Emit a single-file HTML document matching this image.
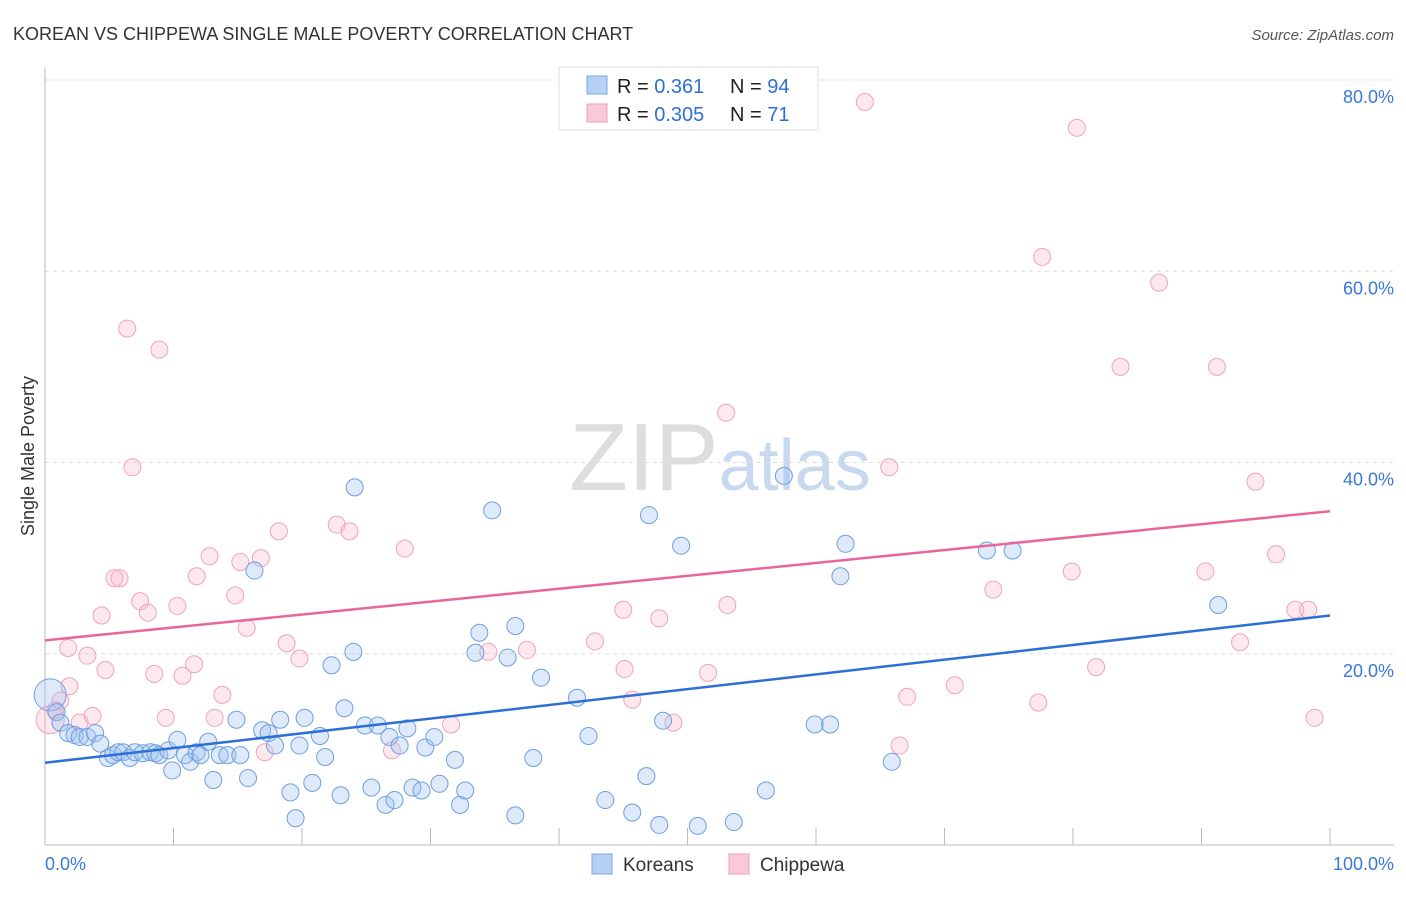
<!DOCTYPE html>
<html><head><meta charset="utf-8"><style>
body{margin:0;background:#fff;font-family:"Liberation Sans",sans-serif;}
svg text{font-family:"Liberation Sans",sans-serif;}
</style></head><body>
<svg id="chart" width="1406" height="892" viewBox="0 0 1406 892" xmlns="http://www.w3.org/2000/svg">
<text x="13" y="40" font-size="18" fill="#333">KOREAN VS CHIPPEWA SINGLE MALE POVERTY CORRELATION CHART</text>
<text x="1394" y="40" font-size="15" fill="#555" text-anchor="end" font-style="italic">Source: ZipAtlas.com</text>
<text x="720" y="490" font-size="96" fill="#ddd" text-anchor="middle" font-family="Liberation Serif">ZIP<tspan fill="#c8d8ee" font-family="Liberation Sans" font-size="72">atlas</tspan></text>
<g id="grid"></g>
<g id="axes"></g>
<text transform="translate(34,456) rotate(-90)" font-size="18" fill="#333" text-anchor="middle">Single Male Poverty</text>
<g id="pts"></g>
<g id="lines"></g>
<g>
<rect x="559" y="67" width="259" height="63" fill="#fff" stroke="#ddd"/>
<rect x="587" y="76" width="20" height="18" fill="#b7d1f4" stroke="#7aa7e3"/>
<text x="617" y="93" font-size="20" fill="#222">R = <tspan fill="#2d6fd6">0.361</tspan><tspan x="730">N = </tspan><tspan fill="#2d6fd6">94</tspan></text>
<rect x="587" y="104" width="20" height="18" fill="#f9c9d7" stroke="#ef9fb8"/>
<text x="617" y="121" font-size="20" fill="#222">R = <tspan fill="#2d6fd6">0.305</tspan><tspan x="730">N = </tspan><tspan fill="#2d6fd6"> 71</tspan></text>
</g>
<g>
<rect x="592" y="854" width="20" height="20" fill="#b7d1f4" stroke="#7aa7e3"/>
<text x="623" y="871" font-size="19" fill="#333">Koreans</text></g>
<g>
<rect x="729" y="854" width="20" height="20" fill="#f9c9d7" stroke="#ef9fb8"/>
<text x="760" y="871" font-size="19" fill="#333">Chippewa</text></g>
<text x="45" y="870" font-size="18" fill="#3a78d8">0.0%</text>
<text x="1394" y="870" font-size="18" fill="#3a78d8" text-anchor="end">100.0%</text>
</svg>
<script>
const yTicks=[20,40,60,80];
const yTickLabels=["20.0%","40.0%","60.0%","80.0%"];
const koreanX=[0.4,0.9,1.2,1.8,2.3,2.7,3.3,3.9,4.3,4.9,5.3,5.7,6.1,6.6,7.0,7.6,8.2,8.6,8.9,9.6,9.9,10.3,10.9,11.3,11.8,12.1,12.7,13.1,13.6,14.2,14.9,15.2,15.8,16.3,16.9,17.4,17.9,18.3,19.1,19.5,19.8,20.2,20.8,21.4,21.8,22.3,23.0,23.3,24.0,24.1,24.9,25.4,25.9,26.5,26.8,27.2,27.6,28.2,28.6,29.3,29.6,30.3,30.7,31.9,32.3,32.7,33.5,33.8,34.8,36.0,36.6,36.6,38.0,38.6,41.4,42.3,43.6,45.7,46.8,47.0,47.8,48.1,49.5,50.8,53.6,56.1,57.5,59.9,61.1,61.9,62.3,65.9,73.3,75.3,91.3];
const koreanY=[15.7,13.9,12.8,11.7,11.5,11.3,11.3,11.7,10.6,9.1,9.4,9.7,9.7,9.1,9.7,9.6,9.7,9.6,9.4,9.9,7.8,11.0,9.4,8.7,9.7,9.4,10.8,6.8,9.4,9.4,13.1,9.4,7.0,28.7,12.0,11.7,10.4,13.1,5.5,2.8,10.4,13.3,6.5,11.4,9.2,18.8,5.2,14.3,20.2,37.4,12.5,6.0,12.5,4.2,11.3,4.7,10.4,12.2,6.0,5.7,10.2,11.3,6.4,8.9,4.2,5.7,20.1,22.2,35.0,19.6,22.9,3.1,9.1,17.5,15.4,11.4,4.7,3.4,7.2,34.5,2.1,13.0,31.3,2.0,2.4,5.7,38.6,12.6,12.6,28.1,31.5,8.7,30.8,30.8,25.1];
const chippewaX=[0.4,0.8,1.2,1.9,1.8,2.7,3.3,3.7,4.4,4.7,5.4,5.8,6.4,6.8,7.4,8.0,8.5,8.9,9.4,10.3,10.7,11.6,11.8,12.8,13.2,13.8,14.8,15.2,15.7,16.8,17.1,18.2,18.8,19.8,22.7,23.7,27.0,28.0,31.6,34.5,37.5,42.8,45.0,45.1,45.7,47.8,48.9,51.6,53.1,53.0,63.8,65.7,66.5,67.1,70.8,73.8,77.3,77.6,79.9,80.3,81.8,83.7,86.7,90.3,91.2,93.0,94.2,95.8,97.3,98.3,98.8];
const chippewaY=[13.1,14.1,15.1,16.6,20.6,12.8,19.8,13.5,24.0,18.3,27.9,27.9,54.0,39.5,25.5,24.3,17.9,51.8,13.3,25.0,17.7,18.9,28.1,30.2,13.3,15.7,26.1,29.6,22.7,30.0,9.7,32.8,21.1,19.5,33.5,32.8,9.9,31.0,12.6,20.2,20.4,21.3,24.6,18.4,15.2,23.7,12.8,18.0,25.1,45.2,77.7,39.5,10.4,15.5,16.7,26.7,14.9,61.5,28.6,75.0,18.6,50.0,58.8,28.6,50.0,21.2,38.0,30.4,24.6,24.6,13.3];
const koreanTrend=[8.6,24.0];
const chippewaTrend=[21.4,34.9];

const NS="http://www.w3.org/2000/svg";
const X0=45,X1=1330,Y0=845,Y80=80;
function sx(v){return X0+(X1-X0)*v/100;}
function sy(v){return Y0-(Y0-Y80)*v/80;}
function mk(tag,attrs,parent){const e=document.createElementNS(NS,tag);for(const k in attrs)e.setAttribute(k,attrs[k]);parent.appendChild(e);return e;}
const grid=document.getElementById('grid'),axes=document.getElementById('axes');
yTicks.forEach((t,i)=>{
  const l=mk('line',{x1:X0,x2:1394,y1:sy(t),y2:sy(t),stroke:'#ddd','stroke-dasharray':'4,4'},grid);
  
  
  const tx=mk('text',{x:1394,y:sy(t)+23,'font-size':18,fill:'#3a78d8','text-anchor':'end'},axes);
  tx.textContent=yTickLabels[i];
  
  
});
mk('line',{x1:X0,x2:X0,y1:68,y2:Y0,stroke:'#bbb'},axes);
mk('line',{x1:X0,x2:1394,y1:Y0,y2:Y0,stroke:'#bbb'},axes);
for(let i=0;i<=10;i++){
  const t=mk('line',{x1:sx(i*10),x2:sx(i*10),y1:828,y2:Y0,stroke:'#bbb'},axes);
  
  
}
const pts=document.getElementById('pts');
function series(xs,ys,fill,stroke,name){
  xs.forEach((x,i)=>{
    const r=i===0?(name==='korean-point'?16:14):8.5;
    const c=mk('circle',{cx:sx(x),cy:sy(ys[i]),r:r,fill:fill,stroke:stroke,'stroke-width':1},pts);
    
    
  });
}
series(chippewaX,chippewaY,'rgba(248,180,200,0.3)','#f0a3bc','chippewa-point');
series(koreanX,koreanY,'rgba(160,196,240,0.35)','#6d9fe0','korean-point');
const lines=document.getElementById('lines');
const kl=mk('line',{x1:sx(0),y1:sy(koreanTrend[0]),x2:sx(100),y2:sy(koreanTrend[1]),stroke:'#2d6fd6','stroke-width':2.5},lines);


const cl=mk('line',{x1:sx(0),y1:sy(chippewaTrend[0]),x2:sx(100),y2:sy(chippewaTrend[1]),stroke:'#e8679a','stroke-width':2.5},lines);


</script>
</body></html>
